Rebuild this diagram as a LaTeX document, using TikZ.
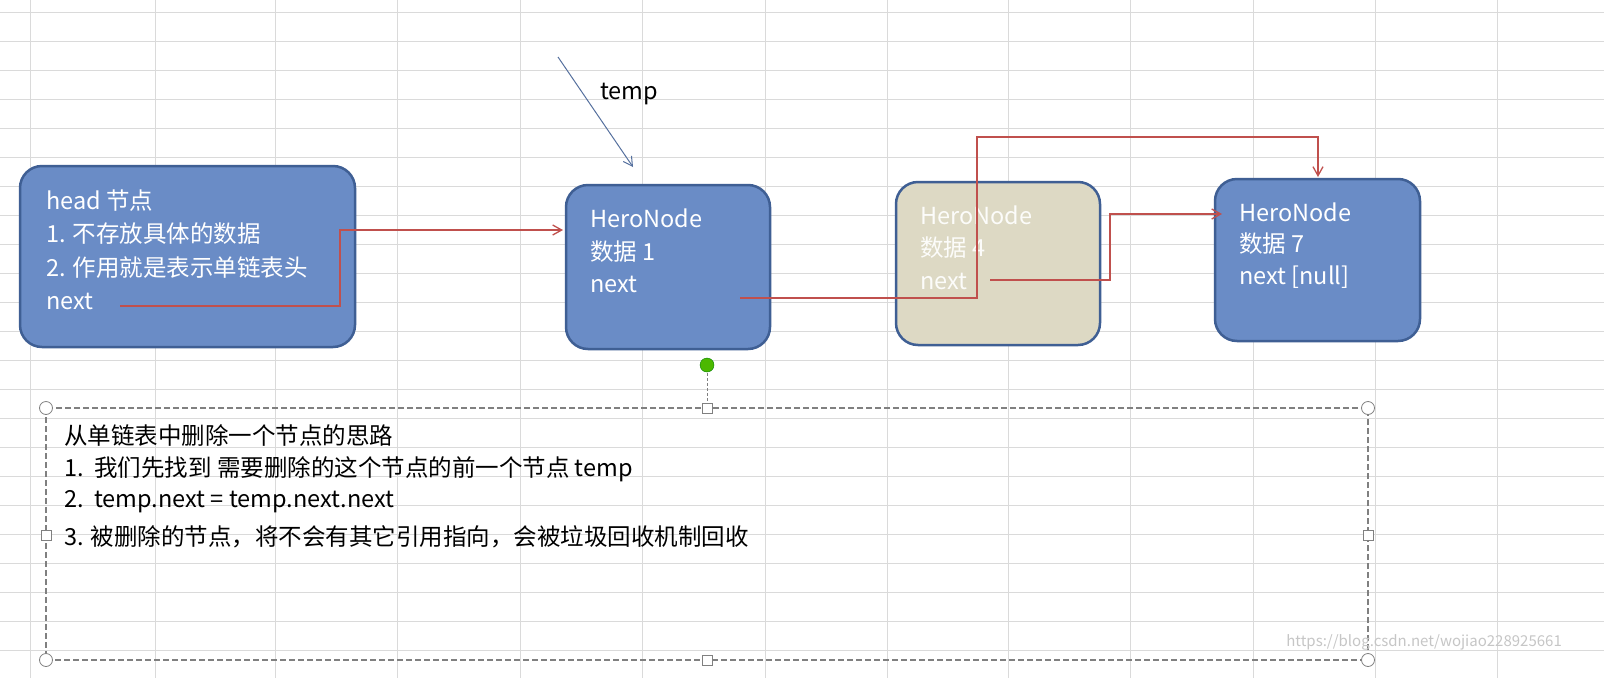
\documentclass[tikz,border=0pt]{standalone}
\usepackage{fontspec}
\setmainfont{Noto Sans CJK SC}
\usetikzlibrary{arrows.meta}
\definecolor{nodeblue}{HTML}{6A8CC6}
\definecolor{nodeedge}{HTML}{3F5F94}
\definecolor{beige}{HTML}{DDD9C4}
\definecolor{arr}{HTML}{C0504D}
\definecolor{gridc}{HTML}{DADADA}
\tikzset{
 hnode/.style={draw=nodeedge,line width=2.5pt,rounded corners=22pt,fill=nodeblue},
 ntext/.style={anchor=west,text=white,font=\fontsize{23.5}{23.5}\selectfont,inner sep=0},
 btext/.style={anchor=west,text=black,font=\fontsize{23.5}{23.5}\selectfont,inner sep=0},
 link/.style={draw=arr,line width=1.3pt,-{Straight Barb[length=9pt,width=10pt]}},
 handle/.style={draw=gray,fill=white,line width=0.8pt}
}
\begin{document}
\begin{tikzpicture}[x=1pt,y=-1pt]
\useasboundingbox (0,0) rectangle (1604,678);
\fill[white] (0,0) rectangle (1604,678);
\foreach \x in {30,155,275,397,520,642,765,887,1008,1130,1253,1375,1497}
  \draw[gridc,line width=0.8pt] (\x,0) -- (\x,678);
\foreach \y in {12,41,70,99,128,157,186,215,244,273,302,331,360,389,418,447,476,505,534,563,592,621,650}
  \draw[gridc,line width=0.8pt] (0,\y) -- (1604,\y);
% nodes
\draw[hnode] (20,166) rectangle (355,347);
\draw[hnode] (566,185) rectangle (770,349);
\draw[hnode,fill=beige] (896,182) rectangle (1100,345);
\draw[hnode] (1215,179) rectangle (1420,341);
\node[ntext] (h1) at (46,201) {head 节点};
\node[ntext] (h2) at (46,234) {1. 不存放具体的数据};
\node[ntext] (h3) at (46,268) {2. 作用就是表示单链表头};
\node[ntext] (h4) at (46,301) {next};
\node[ntext] (a1) at (590,218) {HeroNode};
\node[ntext] (a2) at (590,252) {数据 1};
\node[ntext] (a3) at (590,284) {next};
\node[ntext,text=white!92!beige] (b1) at (920,215) {HeroNode};
\node[ntext,text=white!92!beige] (b2) at (920,248) {数据 4};
\node[ntext,text=white!92!beige] (b3) at (920,281) {next};
\node[ntext] (c1) at (1239,212) {HeroNode};
\node[ntext] (c2) at (1239,244) {数据 7};
\node[ntext] (c3) at (1239,277) {next [null]};
% links
\coordinate (hs) at (120,306); \coordinate (he) at (563,230);
\draw[link] (hs) -- (340,306) -- (340,230) -- (he);
\coordinate (as) at (740,298); \coordinate (ae) at (1318,177);
\draw[link] (as) -- (977,298) -- (977,137) -- (1318,137) -- (ae);
\coordinate (bs) at (990,280); \coordinate (be) at (1222,214);
\draw[link] (bs) -- (1110,280) -- (1110,214) -- (be);
% temp
\coordinate (ts) at (558,57); \coordinate (te) at (633,167);
\draw[draw=nodeblue!80!black,line width=1pt,-{Straight Barb[length=9pt,width=10pt]}] (ts) -- (te);
\node[btext] (temp) at (600,94) {temp};
% text box
\draw[gray,line width=1.4pt,dash pattern=on 6pt off 3pt] (46,408) rectangle (1368,660);
\draw[gray,densely dashed,line width=0.8pt] (707,373) -- (707,408);
\fill[green!60!black!70!yellow,draw=green!50!black] (707,365) circle (7pt);
\foreach \p in {(46,408),(1368,408),(46,660),(1368,660)} \draw[handle] \p circle (6.5pt);
\foreach \p in {(707,408),(46,535),(1368,535),(707,660)} \draw[handle] \p ++(-5,-5) rectangle ++(10,10);
\node[btext] (t1) at (64,435) {从单链表中删除一个节点的思路};
\node[btext] (t2) at (64,469) {1.\ \ 我们先找到 需要删除的这个节点的前一个节点 temp};
\node[btext] (t3) at (64,502) {2.\ \ temp.next = temp.next.next};
\node[btext] (t4) at (64,537) {3. 被删除的节点，将不会有其它引用指向，会被垃圾回收机制回收};
\node[anchor=east,text=gray!45,font=\fontsize{15}{15}\selectfont,inner sep=0] (wm) at (1562,642) {https://blog.csdn.net/wojiao228925661};
\end{tikzpicture}
\end{document}
